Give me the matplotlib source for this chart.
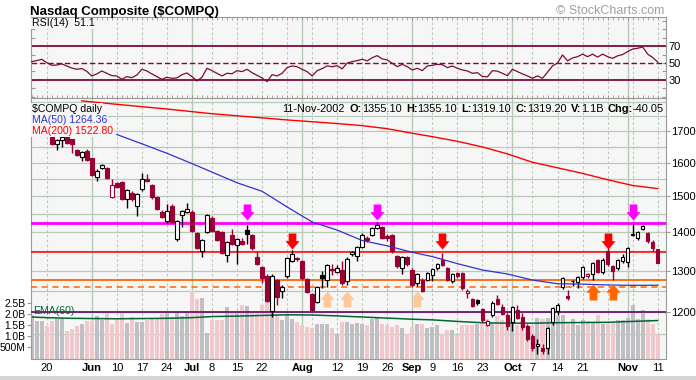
import numpy as np
import pandas as pd
import matplotlib
matplotlib.use("Agg")
import matplotlib.pyplot as plt
from matplotlib.path import Path
from matplotlib.lines import Line2D
from matplotlib.patches import Rectangle
from matplotlib.transforms import offset_copy, IdentityTransform
from matplotlib.ticker import FixedLocator, NullLocator, FixedFormatter

plt.rcParams['font.family'] = ['Liberation Sans', 'DejaVu Sans']

W, H = 696, 380

# trading calendar shown on the chart
holidays = pd.to_datetime(['2002-05-27', '2002-07-04', '2002-09-02'])
dates = pd.bdate_range('2002-05-15', '2002-11-11')
dates = dates[~dates.isin(holidays)]

# daily candles, 21-May-2002 .. 11-Nov-2002
first_candle = '2002-05-21'
opens = [1692, 1658, 1673, 1681, 1674, 1641, 1617, 1636, 1614, 1558,
         1585, 1584, 1499, 1538, 1541, 1494, 1511, 1473, 1521, 1550,
         1533, 1497, 1457, 1430, 1472, 1382, 1448, 1457, 1457, 1397,
         1350, 1401, 1440, 1404, 1400, 1340, 1392, 1366, 1377, 1406,
         1392, 1335, 1309, 1288, 1204, 1276, 1251, 1287, 1324, 1332,
         1324, 1280, 1243, 1225, 1289, 1276, 1305, 1297, 1301, 1274,
         1342, 1337, 1361, 1384, 1393, 1412, 1413, 1390, 1393, 1337,
         1306, 1335, 1302, 1270, 1278, 1278, 1290, 1306, 1327, 1306,
         1274, 1295, 1295, 1245, 1231, 1229, 1207, 1172, 1194, 1231,
         1212, 1195, 1178, 1206, 1190, 1170, 1146, 1125, 1120, 1120,
         1179, 1202, 1260, 1239, 1274, 1272, 1284, 1287, 1291, 1326,
         1297, 1350, 1311, 1307, 1324, 1322, 1394, 1386, 1409, 1397,
         1375, 1355.1]
highs = [1695, 1676, 1692, 1685, 1677, 1645, 1637, 1643, 1616, 1580,
         1597, 1588, 1551, 1542, 1544, 1521, 1515, 1509, 1569, 1566,
         1537, 1500, 1460, 1478, 1478, 1433, 1462, 1482, 1462, 1400,
         1382, 1450, 1444, 1407, 1403, 1376, 1409, 1385, 1385, 1420,
         1396, 1350, 1312, 1291, 1291, 1280, 1264, 1336, 1354, 1335,
         1328, 1283, 1246, 1262, 1299, 1317, 1316, 1314, 1324, 1334,
         1350, 1364, 1399, 1390, 1414, 1427, 1416, 1395, 1396, 1340,
         1338, 1338, 1306, 1294, 1282, 1298, 1307, 1319, 1345, 1309,
         1295, 1298, 1298, 1254, 1234, 1232, 1210, 1183, 1226, 1241,
         1220, 1198, 1215, 1216, 1198, 1173, 1150, 1140, 1130, 1167,
         1213, 1221, 1285, 1253, 1277, 1288, 1312, 1295, 1323, 1330,
         1332, 1371, 1314, 1329, 1342, 1362, 1422, 1404, 1421, 1402,
         1380, 1355.1]
lows = [1655, 1640, 1649, 1660, 1631, 1622, 1607, 1606, 1560, 1546,
        1582, 1550, 1496, 1524, 1490, 1468, 1488, 1445, 1517, 1543,
        1493, 1460, 1438, 1424, 1425, 1378, 1413, 1454, 1400, 1355,
        1334, 1398, 1400, 1376, 1342, 1323, 1365, 1316, 1366, 1368,
        1354, 1314, 1269, 1224, 1190, 1217, 1233, 1283, 1321, 1324,
        1278, 1245, 1203, 1221, 1257, 1259, 1289, 1294, 1266, 1266,
        1338, 1324, 1358, 1375, 1390, 1408, 1381, 1376, 1346, 1308,
        1292, 1312, 1260, 1262, 1247, 1275, 1274, 1303, 1311, 1275,
        1270, 1283, 1253, 1233, 1212, 1216, 1179, 1168, 1190, 1216,
        1193, 1160, 1157, 1184, 1160, 1136, 1113, 1108, 1108, 1108,
        1172, 1193, 1255, 1228, 1263, 1258, 1280, 1282, 1276, 1294,
        1293, 1312, 1278, 1302, 1320, 1310, 1391, 1379, 1406, 1372,
        1350, 1319.1]
closes = [1660, 1673, 1681, 1663, 1660, 1626, 1634, 1610, 1563, 1576,
          1594, 1553, 1534, 1528, 1494, 1518, 1492, 1506, 1551, 1546,
          1497, 1464, 1442, 1459, 1429, 1430, 1459, 1463, 1404, 1359,
          1379, 1448, 1404, 1379, 1346, 1373, 1368, 1382, 1370, 1395,
          1357, 1317, 1282, 1227, 1288, 1235, 1261, 1333, 1342, 1330,
          1282, 1249, 1206, 1259, 1282, 1314, 1301, 1308, 1270, 1331,
          1348, 1361, 1393, 1379, 1411, 1420, 1385, 1384, 1350, 1312,
          1335, 1316, 1264, 1291, 1251, 1295, 1304, 1316, 1314, 1278,
          1292, 1287, 1257, 1251, 1215, 1221, 1182, 1180, 1222, 1220,
          1197, 1168, 1212, 1188, 1166, 1140, 1120, 1129, 1114, 1164,
          1210, 1217, 1282, 1233, 1274.5, 1285, 1309, 1291, 1320, 1298,
          1328, 1316, 1300, 1326, 1336, 1359, 1396, 1401, 1418, 1377,
          1358, 1319.2]

# volume in billions, 15-May .. 11-Nov
volume_b = [1.95, 1.70, 1.70, 1.46, 1.70, 1.78, 1.85, 1.25, 1.33, 1.46,
            1.58, 1.69, 1.69, 1.91, 1.76, 2.11, 1.55, 1.73, 2.08, 1.61,
            1.88, 1.64, 1.64, 1.73, 1.78, 1.78, 2.00, 2.06, 1.88, 2.06,
            1.91, 2.06, 3.08, 2.71, 2.75, 1.16, 1.73, 1.76, 1.73, 2.33,
            2.08, 2.08, 2.41, 2.36, 2.11, 2.08, 2.41, 2.56, 2.38, 2.00,
            1.73, 2.00, 1.81, 1.66, 1.51, 1.43, 1.36, 1.55, 1.58, 1.55,
            1.39, 1.10, 1.66,
            1.66, 1.58, 1.61, 1.58, 1.54, 1.81, 1.88, 1.58, 1.51, 1.43,
            1.51, 1.36, 1.10, 1.43, 1.55, 1.58, 1.36, 1.43, 1.51, 1.10,
            1.31, 1.28, 1.06, 1.54, 1.54, 1.54, 1.58, 1.55, 1.81, 1.61,
            1.91, 1.73, 1.51, 1.85, 1.51, 1.68, 1.51, 1.51, 1.85, 1.81,
            1.85, 1.76, 1.91, 1.96, 1.58, 1.81, 1.51, 1.73, 1.68, 1.61,
            1.96, 1.58, 1.58, 1.61, 1.73, 1.76, 1.85, 2.43, 1.81, 2.18,
            1.81, 1.58, 1.10]
# up/down flags for the bars before the first visible candle comparison
lead_vol_up = [True, True, True, False, False]

rsi = [51.6, 52.8, 54.4, 50.4, 47.2, 47.6, 49.0, 46.4, 44.0, 42.5,
       43.4, 40.1, 34.6, 37.0, 40.5, 37.7, 35.0, 34.6, 30.6, 33.8,
       32.5, 35.7, 42.5, 40.5, 37.0, 33.8, 30.6, 33.0, 31.8, 32.2,
       36.1, 38.1, 33.8, 28.6, 33.0, 43.7, 40.9, 37.7, 34.6, 37.8,
       37.2, 40.9, 39.7, 42.5, 38.5, 35.3, 32.2, 27.8, 36.1, 34.6,
       37.7, 44.5, 46.4, 45.6, 42.5, 39.7, 34.6, 40.9, 43.3, 46.5,
       45.5, 46.8, 43.0, 50.0, 51.6, 52.8, 54.4, 52.5, 56.3, 58.7,
       54.8, 53.6, 49.6, 45.6, 48.4, 45.6, 41.7, 43.7, 40.9, 46.4,
       47.2, 48.4, 48.0, 44.5, 46.4, 43.7, 41.7, 40.5, 37.7, 38.5,
       34.0, 33.5, 40.9, 40.3, 37.7, 35.0, 42.5, 39.7, 37.0, 34.6,
       31.8, 34.6, 31.8, 39.0, 46.5, 50.0, 59.5, 52.5, 56.0, 57.5,
       60.5, 57.5, 60.5, 57.0, 60.5, 57.5, 55.5, 58.5, 60.0, 63.5,
       66.5, 67.5, 69.0, 60.5, 56.5, 51.1]

ma50_dates = ['2002-06-10', '2002-06-17', '2002-06-24', '2002-07-01', '2002-07-08',
              '2002-07-15', '2002-07-22', '2002-07-29', '2002-08-05', '2002-08-12',
              '2002-08-19', '2002-08-26', '2002-09-03', '2002-09-09', '2002-09-16',
              '2002-09-23', '2002-09-30', '2002-10-07', '2002-10-14', '2002-10-21',
              '2002-10-28', '2002-11-04', '2002-11-11']
ma50 = [1690, 1660, 1630, 1598, 1572, 1540, 1515, 1470, 1428, 1406,
        1378, 1364, 1347, 1336, 1318, 1302, 1292, 1277, 1268, 1267,
        1265, 1264, 1264.36]
ma200_dates = ['2002-05-30', '2002-06-10', '2002-06-17', '2002-06-24', '2002-07-01',
               '2002-07-08', '2002-07-15', '2002-07-22', '2002-07-29', '2002-08-05',
               '2002-08-12', '2002-08-19', '2002-08-26', '2002-09-03', '2002-09-09',
               '2002-09-16', '2002-09-23', '2002-09-30', '2002-10-07', '2002-10-14',
               '2002-10-21', '2002-10-28', '2002-11-04', '2002-11-11']
ma200 = [1803, 1791, 1783, 1775, 1766, 1759, 1752, 1745, 1738, 1732,
         1726, 1719, 1709, 1694, 1683, 1668, 1650, 1628, 1602, 1585,
         1568, 1549, 1532, 1522.8]
ema60_dates = ['2002-05-15', '2002-05-20', '2002-05-28', '2002-06-03', '2002-06-10',
               '2002-06-17', '2002-06-24', '2002-07-01', '2002-07-08', '2002-07-15',
               '2002-07-22', '2002-07-29', '2002-08-05', '2002-08-12', '2002-08-19',
               '2002-08-26', '2002-09-03', '2002-09-09', '2002-09-16', '2002-09-23',
               '2002-09-30', '2002-10-07', '2002-10-14', '2002-10-21', '2002-10-28',
               '2002-11-04', '2002-11-11']
ema60 = [1.88, 1.85, 1.82, 1.81, 1.80, 1.81, 1.82, 1.85, 1.90, 1.92,
         1.95, 1.98, 1.97, 1.93, 1.88, 1.83, 1.78, 1.75, 1.68, 1.62,
         1.60, 1.60, 1.62, 1.63, 1.64, 1.68, 1.72]

# support / resistance lines and their arrows
lvl_magenta, lvl_red, lvl_orange, lvl_orange_dash, lvl_purple = 1424, 1347, 1276, 1260, 1200
arrows_magenta = ['2002-07-17', '2002-08-22', '2002-11-04']
arrows_red = ['2002-07-30', '2002-09-11', '2002-10-28']
arrows_peach = ['2002-08-08', '2002-08-14', '2002-09-04']
arrows_orange = ['2002-10-23', '2002-10-29']

tick_dates = ['2002-05-20', '2002-06-03', '2002-06-10', '2002-06-17', '2002-06-24',
              '2002-07-01', '2002-07-08', '2002-07-15', '2002-07-22', '2002-08-01',
              '2002-08-12', '2002-08-19', '2002-08-26', '2002-09-03', '2002-09-09',
              '2002-09-16', '2002-09-23', '2002-10-01', '2002-10-07', '2002-10-14',
              '2002-10-21', '2002-11-01', '2002-11-11']
tick_labels = ['20', 'Jun', '10', '17', '24', 'Jul', '8', '15', '22', 'Aug', '12', '19',
               '26', 'Sep', '9', '16', '23', 'Oct', '7', '14', '21', 'Nov', '11']

BG = '#f6f6f6'
GRID = '#b7c9b7'
SPINE = '#9a9a9a'
RED = '#990033'
MAROON = '#7d0a3c'


def pos(ds):
    return [dates.get_loc(pd.Timestamp(d)) for d in ds]


def rect(x0, y0, x1, y1):
    return [x0 / W, 1 - y1 / H, (x1 - x0) / W, (y1 - y0) / H]


fig = plt.figure(figsize=(W / 100, H / 100), dpi=100)
fig.patch.set_facecolor('white')
ax_rsi = fig.add_axes(rect(31, 17, 666, 98))
ax_vol = fig.add_axes(rect(31, 98, 666, 358.5))
ax = ax_vol.twinx()

xall = np.arange(len(dates))
xlim = (-0.135, 126.66)

# ---------- grid ----------
month_start = [k for k in range(1, len(dates)) if dates[k].month != dates[k - 1].month]
mondays = [k for k in range(len(dates)) if dates[k].weekday() == 0 and k not in month_start]
for a in (ax_rsi, ax_vol):
    a.set_facecolor(BG)
    for k in month_start:
        a.axvline(k, color=GRID, lw=1.0, zorder=0.5)
    for k in mondays:
        a.axvline(k, color=GRID, lw=0.8, ls=(0, (2.2, 2.2)), zorder=0.5)
    for s in a.spines.values():
        s.set_color(SPINE)
        s.set_linewidth(0.8)
for s in ax.spines.values():
    s.set_visible(False)

ax.set_yscale('log')
ax.set_ylim(1098, 1813)
ax.set_xlim(*xlim)
for p in range(1150, 1801, 50):
    ln = Line2D([xlim[0], xlim[1]], [p, p], color=GRID, lw=0.9, zorder=0.5,
                transform=ax.transData)
    ax_vol.add_line(ln)

# ---------- volume ----------
k0 = dates.get_loc(pd.Timestamp(first_candle))
c = np.array(closes, dtype=float)
o = np.array(opens, dtype=float)
h = np.array(highs, dtype=float)
l = np.array(lows, dtype=float)
up_day = np.concatenate([[lead_vol_up[-1]], c[1:] >= c[:-1]])
vol_up = list(lead_vol_up[:k0]) + list(up_day)
vcols = ['#c0c0c4' if u else '#f1c8cb' for u in vol_up]
ax_vol.bar(xall, volume_b, width=0.8, color=vcols, linewidth=0, zorder=1)
ax_vol.plot(pos(ema60_dates), ema60, color='#006633', lw=1.1, zorder=2)
ax_vol.set_ylim(0, 11.8)
ax_vol.set_xlim(*xlim)
ax_vol.yaxis.set_major_locator(FixedLocator([0.5, 1.0, 1.5, 2.0, 2.5]))
ax_vol.yaxis.set_major_formatter(FixedFormatter(['500M', '1.0B', '1.5B', '2.0B', '2.5B']))
ax_vol.tick_params(axis='y', which='major', labelsize=7.4, length=3, width=0.8,
                   color=SPINE, pad=1, direction='out')

# ---------- price ----------
for lvl, col, lw, ls in [(lvl_magenta, '#ff00ff', 2.0, '-'), (lvl_red, '#ff0000', 1.1, '-'),
                         (lvl_orange, '#ff6600', 1.3, '-'),
                         (lvl_orange_dash, '#ff6600', 1.1, (0, (4, 3))),
                         (lvl_purple, '#6b1470', 1.3, '-')]:
    ax.axhline(lvl, color=col, lw=lw, ls=ls, zorder=2)

xc = np.arange(k0, k0 + len(closes))
colors = np.where(up_day, 'black', RED)
ax.vlines(xc, l, h, colors=colors, lw=1.0, zorder=3)
hollow = c > o
faces = ['white' if hw else col for hw, col in zip(hollow, colors)]
ax.bar(xc, np.abs(c - o), bottom=np.minimum(o, c), width=0.72, color=faces,
       edgecolor=colors, linewidth=0.8, zorder=3.5)

ax.plot(pos(ma50_dates), ma50, color='#3333cc', lw=0.9, zorder=4)
ax.plot(pos(ma200_dates), ma200, color='#ff0000', lw=1.0, zorder=4)

# arrows
down = Path([(-0.24, 0.5), (0.24, 0.5), (0.24, 0.02), (0.44, 0.02), (0, -0.5),
             (-0.44, 0.02), (-0.24, 0.02), (-0.24, 0.5)], closed=True)
upar = Path([(x, -y) for x, y in down.vertices], closed=True)
off_dn = offset_copy(ax.transData, fig=fig, x=0, y=8.3, units='points')
off_up = offset_copy(ax.transData, fig=fig, x=0, y=-8.3, units='points')
for ds, lvl, col, path, tr in [(arrows_magenta, lvl_magenta, '#ff00ff', down, off_dn),
                               (arrows_red, lvl_red, '#ff0000', down, off_dn),
                               (arrows_peach, lvl_orange_dash, '#ffc898', upar, off_up),
                               (arrows_orange, lvl_orange, '#ff6600', upar, off_up)]:
    ax.plot(pos(ds), [lvl] * len(ds), ls='none', marker=path, markersize=11.5,
            color=col, markeredgewidth=0, transform=tr, zorder=5, clip_on=False)

ax.yaxis.set_major_locator(FixedLocator([1200, 1300, 1400, 1500, 1600, 1700]))
ax.yaxis.set_major_formatter(FixedFormatter(['1200', '1300', '1400', '1500', '1600', '1700']))
ax.yaxis.set_minor_locator(NullLocator())
ax.tick_params(axis='y', which='major', labelsize=8, length=3, width=0.8,
               color=SPINE, pad=1.0, direction='out')

# x axis labels
ax_vol.set_xticks(pos(tick_dates))
ax_vol.set_xticklabels(tick_labels)
ax_vol.tick_params(axis='x', which='major', labelsize=8, length=0, pad=3)
for t in ax_vol.get_xticklabels():
    if not t.get_text().isdigit():
        t.set_fontweight('bold')

# ---------- RSI ----------
ax_rsi.set_xlim(*xlim)
ax_rsi.set_ylim(8.4, 104.6)
ax_rsi.axhline(70, color=MAROON, lw=1.3, zorder=2)
ax_rsi.axhline(30, color=MAROON, lw=1.3, zorder=2)
ax_rsi.axhline(50, color=MAROON, lw=1.0, ls=(0, (4, 2)), zorder=2)
ax_rsi.plot(xall, rsi, color=MAROON, lw=0.9, zorder=3)
ax_rsi.yaxis.tick_right()
ax_rsi.yaxis.set_major_locator(FixedLocator([30, 50, 70]))
ax_rsi.yaxis.set_minor_locator(FixedLocator([10, 20, 40, 60, 80, 90, 100]))
ax_rsi.tick_params(axis='y', which='major', labelsize=8, length=3, width=0.8,
                   color=SPINE, pad=2, direction='in', left=True, right=True)
ax_rsi.tick_params(axis='y', which='minor', length=3, width=0.8, color=SPINE,
                   direction='in', left=True, right=True)
ax_rsi.set_xticks([])
ax_rsi.xaxis.set_minor_locator(FixedLocator(xall))
ax_rsi.tick_params(axis='x', which='minor', length=2.5, width=0.6, color=SPINE,
                   direction='in', top=True, bottom=True)

# ---------- texts ----------
def fxy(x, y):
    return x / W, 1 - y / H


fig.text(*fxy(30, 14.5), 'Nasdaq Composite ($COMPQ)', fontsize=9.5, fontweight='bold',
         va='baseline')
fig.text(*fxy(664, 14.5), '\u00a9 StockCharts.com', fontsize=9, color='#a0a0a0',
         va='baseline', ha='right')
fig.text(*fxy(32, 26.5), 'RSI(14)  51.1', fontsize=7.6, va='baseline', zorder=10,
         bbox=dict(facecolor=BG, edgecolor='none', pad=0.6))

leg = dict(fontsize=7.6, va='baseline', zorder=10)
fig.text(*fxy(32, 112), '$COMPQ daily', color='black',
         bbox=dict(facecolor=BG, edgecolor='none', pad=0.6), **leg)
fig.text(*fxy(32, 123), 'MA(50) 1264.36', color='#3333cc',
         bbox=dict(facecolor=BG, edgecolor='none', pad=0.6), **leg)
fig.text(*fxy(32, 134), 'MA(200) 1522.80', color='#ff0000',
         bbox=dict(facecolor=BG, edgecolor='none', pad=0.6), **leg)
fig.text(*fxy(33, 313.5), 'EMA(60)', color='#006633', fontsize=7.6, va='baseline', zorder=10)

# right-aligned header with bold field names
runs = [('11-Nov-2002', 'normal', 5), ('O:', 'bold', 0), ('1355.10', 'normal', 4),
        ('H:', 'bold', 0), ('1355.10', 'normal', 4), ('L:', 'bold', 0),
        ('1319.10', 'normal', 4), ('C:', 'bold', 0), ('1319.20', 'normal', 4),
        ('V:', 'bold', 0), ('1.1B', 'normal', 4), ('Chg:', 'bold', 0), ('-40.05', 'normal', 0)]
renderer = fig.canvas.get_renderer()
arts = [fig.text(0, 0, s, fontsize=7.9, fontweight=w, transform=IdentityTransform(),
                 va='baseline', zorder=10) for s, w, g in runs]
widths = [a.get_window_extent(renderer).width for a in arts]
total = sum(widths) + sum(g for _, _, g in runs)
xcur = 664 - total
for a, wd, (s, w, g) in zip(arts, widths, runs):
    a.set_position((xcur, H - 112))
    xcur += wd + g

fig.patches.append(Rectangle((0, 0), 1, 4 / H, transform=fig.transFigure,
                             facecolor='#d4d4d4', edgecolor='none'))

fig.savefig('out.png', dpi=100, facecolor='white')
